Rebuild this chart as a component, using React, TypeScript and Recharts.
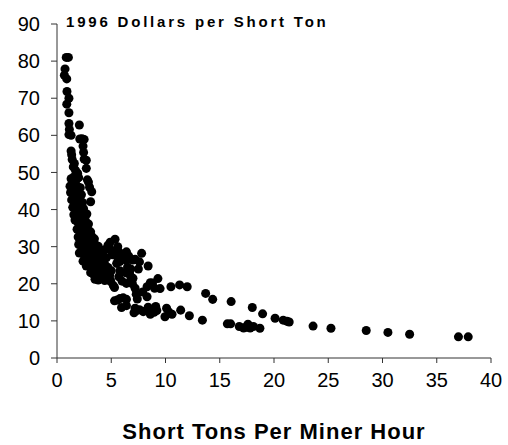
import React from "react"
import { ScatterChart, Scatter, XAxis, YAxis, ZAxis, Label } from "recharts"

type Pt = [number, number]

// steep upper part of the curve (low productivity, high price)
const steepPoints: Pt[] = [
  [0.85, 81.0], [1.05, 81.0], [0.74, 77.9], [0.68, 76.2], [0.9, 75.2], [0.92, 71.8],
  [1.1, 70.0], [0.9, 68.4], [1.1, 66.1], [1.1, 63.2], [1.14, 61.6], [1.1, 60.2],
  [1.3, 60.0], [2.06, 62.8], [2.1, 59.0], [2.3, 59.1], [2.5, 58.9], [2.4, 57.1],
  [2.45, 55.4], [2.5, 53.6], [2.7, 53.3], [2.7, 51.1], [2.8, 48.0], [3.0, 46.0],
  [3.2, 44.8], [1.3, 55.8], [1.35, 54.8], [1.4, 53.5], [2.9, 47.4], [3.1, 42.1],
]

// dense blob 1-5 tons/hour
const denseCore: Pt[] = [
  [1.5, 51.5], [1.7, 50.6], [1.9, 49.8], [1.6, 52.4],
  [1.3, 48.3], [1.55, 48.8], [1.8, 48.1], [2.0, 48.6], [1.4, 47.2],
  [1.2, 46.3], [1.45, 46.8], [1.7, 46.5], [1.95, 46.1], [2.15, 45.9],
  [1.25, 44.6], [1.5, 44.2], [1.75, 44.8], [2.0, 44.5], [2.25, 44.0],
  [1.35, 42.6], [1.6, 42.9], [1.85, 42.3], [2.1, 42.7], [2.35, 41.9],
  [1.45, 40.6], [1.7, 40.9], [1.95, 40.3], [2.2, 40.8], [2.45, 40.2],
  [1.55, 38.6], [1.8, 38.9], [2.05, 38.4], [2.3, 38.7], [2.55, 38.1], [2.75, 38.8],
  [1.66, 37.2], [1.9, 36.6], [2.15, 36.9], [2.4, 36.3], [2.65, 36.8], [2.9, 36.1],
  [1.85, 34.7], [2.1, 34.4], [2.35, 34.9], [2.6, 34.2], [2.85, 34.6], [3.1, 34.0],
  [1.95, 32.6], [2.2, 32.9], [2.45, 32.3], [2.7, 32.7], [2.95, 32.2], [3.2, 32.8], [3.45, 32.1],
  [2.0, 30.6], [2.25, 30.2], [2.5, 30.8], [2.75, 30.4], [3.0, 30.9], [3.25, 30.3], [3.5, 30.7], [3.8, 30.1],
  [2.06, 28.3], [2.35, 28.9], [2.6, 28.4], [2.85, 28.8], [3.1, 28.2], [3.35, 28.7], [3.6, 28.3],
  [3.85, 28.9], [4.1, 28.4], [4.35, 29.1],
  [2.4, 26.1], [2.55, 27.2], [2.8, 26.6], [3.05, 27.1], [3.3, 26.4], [3.55, 27.0], [3.8, 26.5],
  [4.05, 26.9], [4.3, 26.3], [4.55, 27.0],
  [2.7, 24.8], [2.95, 25.3], [3.2, 24.6], [3.45, 25.2], [3.7, 24.7], [3.95, 25.1], [4.2, 24.5],
  [4.45, 25.0], [4.7, 24.4],
  [3.1, 23.0], [3.35, 22.6], [3.6, 23.2], [3.85, 22.5], [4.1, 22.9], [4.35, 22.3], [4.6, 22.8], [4.85, 22.2],
  [3.5, 21.2], [3.8, 21.0], [4.1, 21.4], [4.4, 20.9], [4.7, 21.3], [4.95, 20.6],
]

const midCluster: Pt[] = [
  [4.7, 30.4], [5.35, 32.0], [5.6, 30.0], [5.7, 28.6], [6.4, 28.6], [7.8, 28.2], [7.0, 26.4],
  [7.2, 26.6], [6.4, 26.4], [8.4, 24.8], [7.6, 25.9], [6.5, 24.5], [6.8, 24.0], [6.7, 22.6],
  [6.8, 21.8], [6.9, 20.9], [6.95, 20.0], [5.7, 21.9], [4.9, 21.0], [5.2, 19.5], [5.3, 19.0],
  [6.4, 20.1], [7.2, 18.8], [7.3, 17.2], [8.3, 19.2], [8.6, 20.3], [8.8, 20.2], [9.0, 18.8],
  [9.5, 18.7], [8.3, 16.5], [9.3, 21.4], [5.0, 29.0], [5.5, 27.5], [6.0, 28.0],
  [5.8, 26.0], [5.5, 25.5], [6.3, 23.0], [5.8, 23.5], [7.5, 24.0],
  [6.6, 27.5], [5.1, 27.8], [4.6, 29.4], [5.0, 23.5], [4.4, 22.3],
  [6.0, 20.7], [7.0, 21.5], [4.9, 31.2],
]

const lowBand: Pt[] = [
  [5.3, 15.4], [5.55, 15.6], [5.8, 16.0], [6.1, 16.2], [6.4, 15.8], [5.95, 13.6],
  [6.4, 14.1], [7.2, 13.4], [7.3, 12.7], [7.1, 12.2], [7.6, 13.0], [7.95, 12.5], [8.4, 13.7],
  [8.6, 12.6], [8.9, 13.2], [9.1, 13.9], [9.2, 12.8], [8.6, 11.8], [8.95, 12.3], [9.95, 11.1],
  [10.1, 13.4], [10.3, 12.4], [10.6, 11.8], [11.4, 12.9], [12.2, 11.4], [13.4, 10.2],
  [15.7, 9.2], [16.0, 9.2], [16.8, 8.5], [17.2, 8.1], [17.4, 8.3], [17.6, 9.1], [17.8, 8.1],
  [18.1, 8.5], [18.7, 8.0], [7.4, 15.9], [7.9, 17.8],
]

const tailPoints: Pt[] = [
  [10.5, 19.2], [11.3, 19.7], [12.0, 19.2], [13.7, 17.4], [14.35, 15.8], [16.05, 15.2],
  [18.0, 13.6], [18.95, 11.9], [20.1, 10.7], [20.85, 10.2], [21.2, 9.9], [21.4, 9.7],
  [23.6, 8.6], [25.25, 8.0], [28.5, 7.4], [30.5, 6.9], [32.5, 6.4], [37.0, 5.7], [37.9, 5.7],
]

const xTicks = [0, 5, 10, 15, 20, 25, 30, 35, 40]
const yTicks = [0, 10, 20, 30, 40, 50, 60, 70, 80, 90]
const yTitle = "1996 Dollars per Short Ton"
const xTitle = "Short Tons Per Miner Hour"

const points = [...steepPoints, ...denseCore, ...midCluster, ...lowBand, ...tailPoints].map(
  ([x, y]) => ({ x, y })
)

const font = "'Liberation Sans', Arial, sans-serif"

export default function App() {
  return (
    <div
      style={{
        position: "absolute",
        left: 0,
        top: 0,
        width: 508,
        height: 445,
        background: "#fff",
        fontFamily: font,
      }}
    >
      <ScatterChart
        width={508}
        height={445}
        margin={{ top: 24, right: 17, left: 0, bottom: 0 }}
        style={{ fontFamily: font }}
      >
        <XAxis
          type="number"
          dataKey="x"
          domain={[0, 40]}
          ticks={xTicks}
          interval={0}
          height={87}
          tickSize={5}
          tickMargin={10}
          axisLine={{ stroke: "#333" }}
          tickLine={{ stroke: "#333" }}
          tick={{ fill: "#000", fontSize: 20 }}
        >
          <Label
            value={xTitle}
            position="insideBottom"
            offset={6}
            fill="#000"
            fontSize={22}
            fontWeight="bold"
            style={{ letterSpacing: 1 }}
          />
        </XAxis>
        <YAxis
          type="number"
          dataKey="y"
          domain={[0, 90]}
          ticks={yTicks}
          interval={0}
          width={57}
          tickSize={6}
          tickMargin={11}
          axisLine={{ stroke: "#333" }}
          tickLine={{ stroke: "#333" }}
          tick={{ fill: "#000", fontSize: 20 }}
        />
        <ZAxis range={[30, 30]} />
        <Scatter data={points} fill="#000" isAnimationActive={false} />
      </ScatterChart>
      <div
        style={{
          position: "absolute",
          left: 66,
          top: 14,
          fontSize: 15,
          lineHeight: "15px",
          fontWeight: "bold",
          letterSpacing: 2.8,
          whiteSpace: "nowrap",
          color: "#000",
        }}
      >
        {yTitle}
      </div>
    </div>
  )
}
